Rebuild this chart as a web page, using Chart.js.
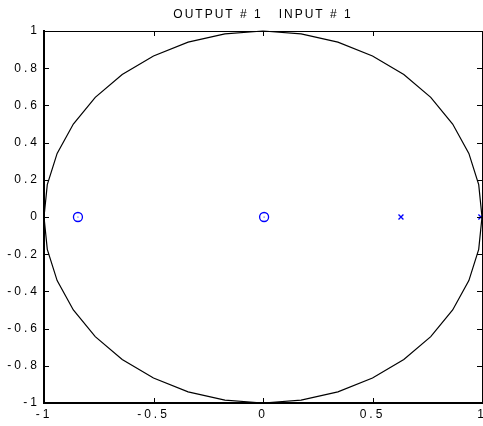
<!DOCTYPE html>
<html>
<head>
<meta charset="utf-8">
<script src="https://cdn.jsdelivr.net/npm/chart.js@4/dist/chart.umd.min.js"></script>
<style>
  html, body { margin: 0; padding: 0; background: #fff; overflow: hidden; }
  #wrap { width: 483px; height: 426px; overflow: hidden; }
  #box { width: 520px; height: 426px; }
</style>
</head>
<body>
<div id="wrap"><div id="box"><canvas id="pz"></canvas></div></div>
<script>
  // zeros (o) and poles (x)
  var zerosRe = [-0.845, 0.005];
  var zerosIm = [0, 0];
  var polesRe = [0.63, 0.995];
  var polesIm = [0, 0];

  // unit circle, 10 degree steps
  var circleX = [1, 0.985, 0.940, 0.866, 0.766, 0.643, 0.5, 0.342, 0.174, 0, -0.174, -0.342, -0.5,
                 -0.643, -0.766, -0.866, -0.940, -0.985, -1, -0.985, -0.940, -0.866, -0.766, -0.643,
                 -0.5, -0.342, -0.174, 0, 0.174, 0.342, 0.5, 0.643, 0.766, 0.866, 0.940, 0.985, 1];
  var circleY = [0, 0.174, 0.342, 0.5, 0.643, 0.766, 0.866, 0.940, 0.985, 1, 0.985, 0.940, 0.866,
                 0.766, 0.643, 0.5, 0.342, 0.174, 0, -0.174, -0.342, -0.5, -0.643, -0.766,
                 -0.866, -0.940, -0.985, -1, -0.985, -0.940, -0.866, -0.766, -0.643, -0.5, -0.342, -0.174, 0];

  var xTicks = [-1, -0.5, 0, 0.5, 1];
  var yTicks = [-1, -0.8, -0.6, -0.4, -0.2, 0, 0.2, 0.4, 0.6, 0.8, 1];

  var FONT = "'Liberation Sans', Arial, sans-serif";

  function pts(xs, ys) {
    return xs.map(function (x, i) { return { x: x, y: ys[i] }; });
  }

  var frame = {
    id: 'frame',
    beforeDraw: function (chart) {
      chart.ctx.letterSpacing = '3px';
    },
    afterDraw: function (chart) {
      var ctx = chart.ctx, a = chart.chartArea;
      var sx = chart.scales.x, sy = chart.scales.y;
      var right = 482;
      ctx.save();
      ctx.strokeStyle = '#000';
      ctx.lineWidth = 1;
      ctx.beginPath();
      ctx.moveTo(a.left, a.top + 0.5); ctx.lineTo(right, a.top + 0.5);
      ctx.moveTo(right + 0.5, a.top); ctx.lineTo(right + 0.5, a.bottom);
      xTicks.forEach(function (v) {
        var px = Math.round(sx.getPixelForValue(v)) + 0.5;
        ctx.moveTo(px, a.bottom); ctx.lineTo(px, a.bottom - 5);
        ctx.moveTo(px, a.top); ctx.lineTo(px, a.top + 5);
      });
      yTicks.forEach(function (v) {
        var py = Math.round(sy.getPixelForValue(v)) + 0.5;
        ctx.moveTo(a.left, py); ctx.lineTo(a.left + 5, py);
        ctx.moveTo(right, py); ctx.lineTo(right - 5, py);
      });
      ctx.stroke();

      // title
      ctx.letterSpacing = '2px';
      ctx.fillStyle = '#000';
      ctx.font = '12px ' + FONT;
      ctx.textAlign = 'center';
      ctx.textBaseline = 'alphabetic';
      ctx.fillText('OUTPUT # 1   INPUT # 1', 263, 18);
      ctx.restore();
    }
  };

  new Chart(document.getElementById('pz'), {
    type: 'scatter',
    data: {
      datasets: [
        {
          data: pts(circleX, circleY),
          showLine: true,
          borderColor: '#000',
          borderWidth: 1.2,
          pointRadius: 0,
          tension: 0,
          fill: false
        },
        {
          data: pts(zerosRe, zerosIm),
          pointStyle: 'circle',
          pointRadius: 4.5,
          borderColor: '#0000ff',
          backgroundColor: 'rgba(0,0,0,0)',
          borderWidth: 1.3
        },
        {
          data: pts(zerosRe, zerosIm),
          pointStyle: 'circle',
          pointRadius: 0.6,
          borderColor: '#0000ff',
          backgroundColor: '#0000ff',
          borderWidth: 0
        },
        {
          data: pts(polesRe, polesIm),
          pointStyle: 'crossRot',
          pointRadius: 3.5,
          borderColor: '#0000ff',
          borderWidth: 1.3
        }
      ]
    },
    options: {
      responsive: true,
      maintainAspectRatio: false,
      animation: false,
      clip: false,
      layout: { padding: { top: 31, right: 38 } },
      plugins: {
        legend: { display: false },
        tooltip: { enabled: false }
      },
      scales: {
        x: {
          type: 'linear',
          min: -1,
          max: 1,
          afterBuildTicks: function (s) { s.ticks = xTicks.map(function (v) { return { value: v }; }); },
          afterFit: function (s) { s.height = 23; },
          grid: { display: false, drawTicks: false },
          border: { display: true, color: '#000', width: 2 },
          ticks: {
            color: '#000',
            padding: 4,
            maxRotation: 0,
            font: { family: FONT, size: 12 },
            callback: function (v) { return String(v); }
          }
        },
        y: {
          type: 'linear',
          min: -1,
          max: 1,
          afterBuildTicks: function (s) { s.ticks = yTicks.map(function (v) { return { value: v }; }); },
          afterFit: function (s) { s.width = 44; },
          grid: { display: false, drawTicks: false },
          border: { display: true, color: '#000', width: 2 },
          ticks: {
            color: '#000',
            padding: 4,
            font: { family: FONT, size: 12 },
            callback: function (v) { return String(Math.round(v * 10) / 10); }
          }
        }
      }
    },
    plugins: [frame]
  });
</script>
</body>
</html>
